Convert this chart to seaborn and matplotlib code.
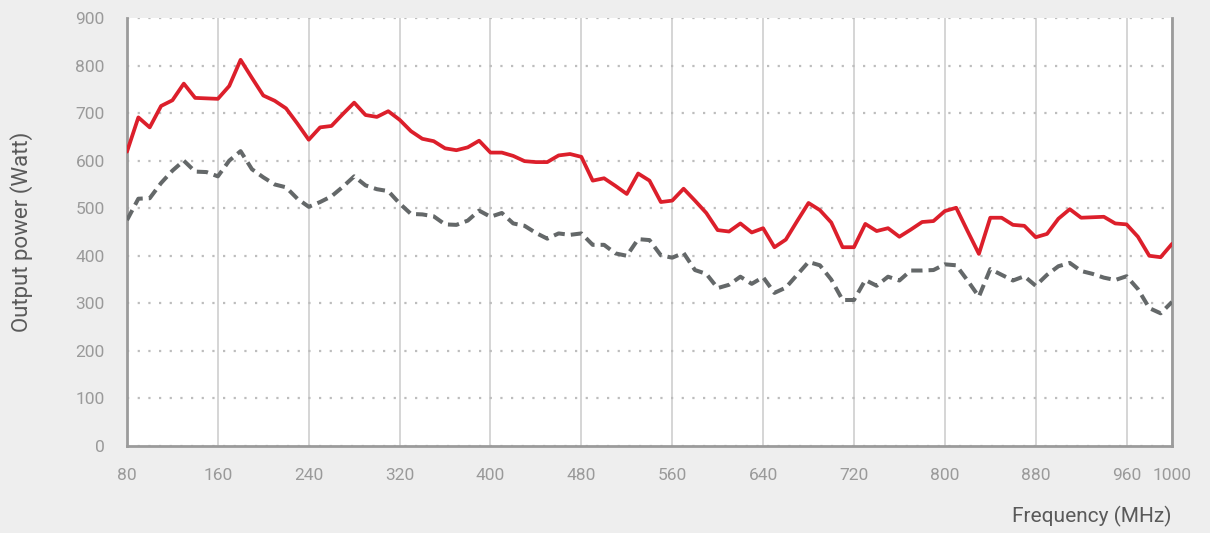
import numpy as np
import pandas as pd
import matplotlib
matplotlib.use("Agg")
import matplotlib.pyplot as plt
import seaborn as sns

# ---- data ----
freq_mhz = list(range(80, 1001, 10))

power_max = [619, 691, 670, 715, 727, 762, 732, 731, 730, 757,
             812, 774, 737, 726, 710, 678, 644, 670, 673, 698,
             722, 696, 692, 704, 686, 662, 646, 641, 626, 622,
             628, 642, 617, 617, 610, 599, 597, 597, 611, 614,
             608, 558, 563, 547, 530, 573, 558, 513, 516, 541,
             516, 490, 454, 451, 468, 449, 458, 418, 434, 473,
             511, 496, 470, 418, 418, 467, 452, 458, 440, 455,
             471, 473, 494, 501, 452, 404, 480, 480, 465, 463,
             439, 446, 478, 498, 480, 481, 482, 468, 466, 440,
             400, 397, 425]

power_min = [475, 520, 521, 553, 579, 600, 577, 576, 567, 600,
             620, 582, 565, 550, 544, 520, 503, 513, 525, 545,
             567, 548, 540, 536, 510, 488, 487, 483, 466, 465,
             474, 495, 482, 490, 468, 463, 448, 436, 447, 444,
             447, 423, 423, 405, 400, 435, 433, 401, 396, 406,
             370, 362, 332, 339, 356, 341, 355, 322, 333, 360,
             387, 380, 350, 307, 307, 349, 337, 356, 348, 369,
             369, 370, 382, 380, 348, 314, 372, 360, 348, 357,
             337, 360, 378, 385, 368, 362, 354, 349, 357, 330,
             290, 279, 303]

x_ticks = [80, 160, 240, 320, 400, 480, 560, 640, 720, 800, 880, 960, 1000]
y_ticks = [0, 100, 200, 300, 400, 500, 600, 700, 800, 900]
x_label = "Frequency (MHz)"
y_label = "Output power (Watt)"

df = pd.DataFrame({"freq": freq_mhz, "max": power_max, "min": power_min})

# ---- plot ----
sns.set_theme(style="white")
plt.rcParams["font.family"] = ["Roboto", "DejaVu Sans"]

fig = plt.figure(figsize=(12.10, 5.33), dpi=100, facecolor="#eeeeee")
ax = fig.add_axes([127 / 1210, 1 - 446 / 533, (1172 - 127) / 1210, (446 - 18) / 533])
ax.set_facecolor("white")

sns.lineplot(data=df, x="freq", y="min", ax=ax, color="#646869", lw=2.9,
             linestyle=(0, (2.8, 1.5)), zorder=3)
sns.lineplot(data=df, x="freq", y="max", ax=ax, color="#dc1f2b", lw=2.7, zorder=4)

ax.set_xlim(80, 1000)
ax.set_ylim(0, 900)
ax.set_xticks(x_ticks)
ax.set_yticks(y_ticks)
ax.set_xticklabels([str(t) for t in x_ticks])
ax.set_yticklabels([str(t) for t in y_ticks])

ax.xaxis.grid(True, linestyle="-", color="#d2d2d2", lw=1.3, zorder=0)
ax.yaxis.grid(True, linestyle=(0, (1.0, 3.8)), color="#bdbdbd", lw=1.6, zorder=0)
ax.set_axisbelow(True)

ax.tick_params(axis="both", length=0, labelsize=12.5, labelcolor="#9a9a9a")
ax.tick_params(axis="x", pad=16)
ax.tick_params(axis="y", pad=16)

for side in ["left", "bottom", "right"]:
    ax.spines[side].set_visible(True)
    ax.spines[side].set_color("#9b9b9b")
    ax.spines[side].set_linewidth(2.0)
ax.spines["top"].set_visible(False)

ax.set_xlabel("")
ax.set_ylabel("")
fig.text(1172 / 1210, 1 - 516 / 533, x_label, ha="right", va="center",
         fontsize=15, color="#5a5a5a")
fig.text(22 / 1210, 1 - 232 / 533, y_label, ha="center", va="center",
         rotation=90, fontsize=16, color="#5a5a5a")

fig.savefig("out.png", dpi=100, facecolor=fig.get_facecolor())
